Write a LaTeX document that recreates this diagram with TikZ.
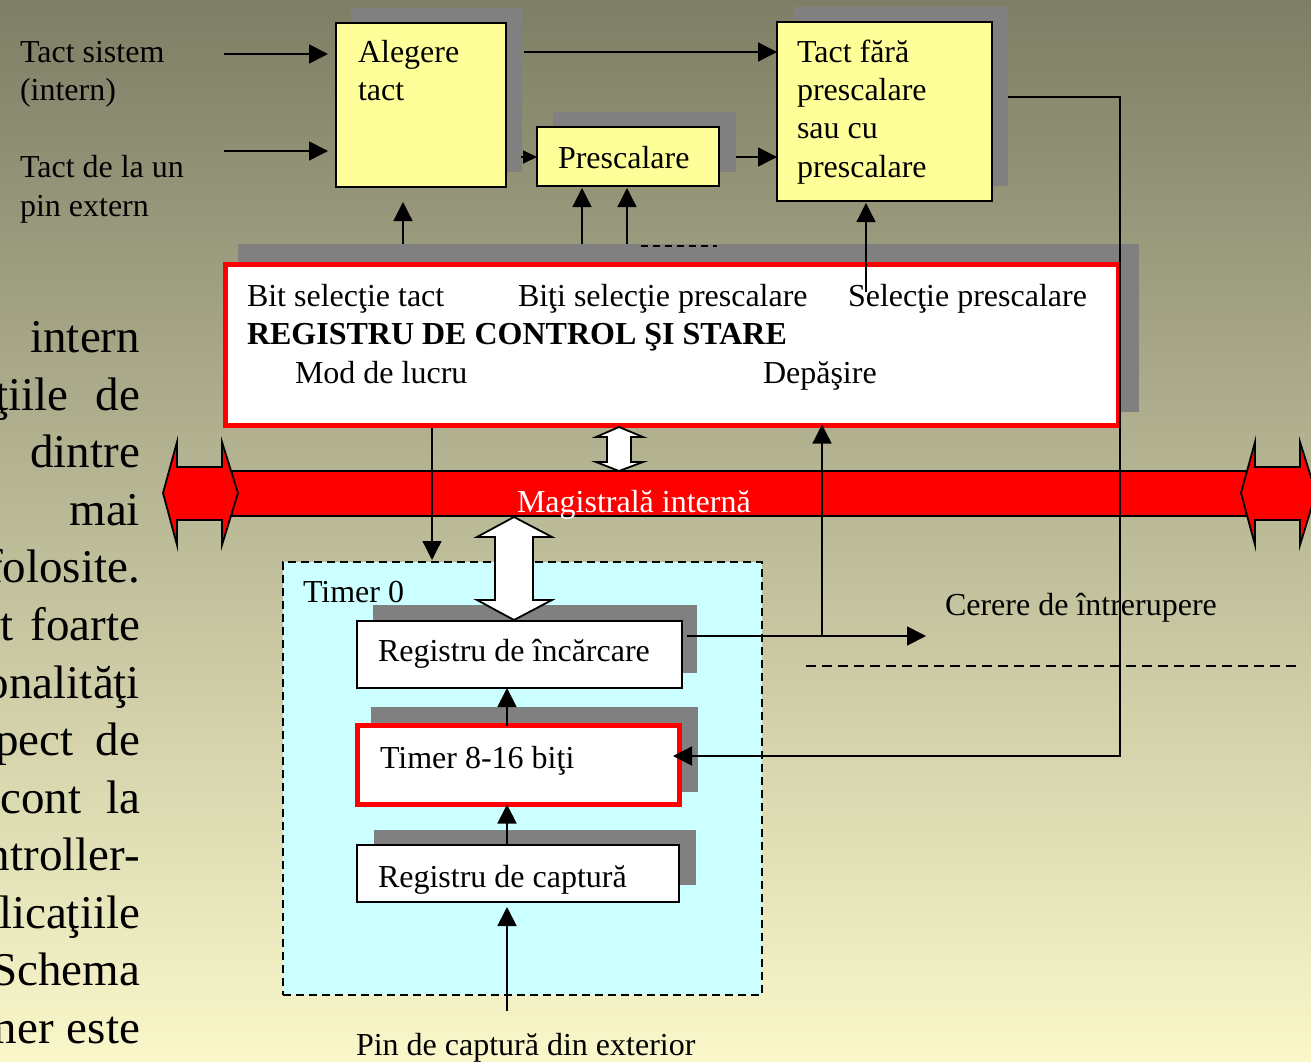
\documentclass[tikz,border=0pt]{standalone}
\usepackage{fontspec}
\setmainfont{Liberation Serif}
\usetikzlibrary{arrows.meta}

\definecolor{bgtop}{RGB}{126,126,102}
\definecolor{bgbot}{RGB}{250,248,202}
\definecolor{shadowgray}{RGB}{128,128,128}
\definecolor{boxyellow}{RGB}{255,255,153}
\definecolor{timercyan}{RGB}{204,255,255}
\definecolor{busred}{RGB}{255,0,0}

\begin{document}
\begin{tikzpicture}[x=1pt,y=-1pt,
  every node/.style={inner sep=0pt, outer sep=0pt},
  lbl/.style={anchor=base west, font=\fontsize{32}{38}\selectfont},
  para/.style={anchor=base east, font=\fontsize{47}{57}\selectfont},
  yelbox/.style={draw=black, line width=1.8pt, fill=boxyellow},
  whitebox/.style={draw=black, line width=1.8pt, fill=white},
  redbox/.style={draw=busred, line width=5pt, fill=white},
  shadowfill/.style={fill=shadowgray},
  thickarr/.style={line width=1.8pt, -{Triangle[length=19pt,width=19pt]}},
  thinarr/.style={line width=1.3pt, -{Triangle[length=19pt,width=19pt]}},
  dblarrow/.style={draw=black, line width=1.8pt, fill=white, line join=miter},
  busshape/.style={draw=black, line width=1.8pt, fill=busred, line join=miter}
]
\useasboundingbox (0,0) rectangle (1311,1062);
\clip (0,0) rectangle (1311,1062);

% background
\shade[top color=bgtop, bottom color=bgbot] (0,0) rectangle (1311,1062);

% paragraph of the slide running off the left edge
\node[para] (p1)  at (140,352)  {intern};
\node[para] (p2)  at (140,410)  {ţiile\hspace{27pt}de};
\node[para] (p3)  at (140,467)  {dintre};
\node[para] (p4)  at (140,525)  {mai};
\node[para] (p5)  at (140,582)  {folosite.};
\node[para] (p6)  at (140,640)  {t\hspace{17pt}foarte};
\node[para] (p7)  at (140,698)  {onalităţi};
\node[para] (p8)  at (140,755)  {pect\hspace{22pt}de};
\node[para] (p9)  at (140,813)  {cont\hspace{25pt}la};
\node[para] (p10) at (140,870)  {ntroller-};
\node[para] (p11) at (140,928)  {licaţiile};
\node[para] (p12) at (140,985)  {Schema};
\node[para] (p13) at (140,1043) {mer\hspace{13pt}este};

% shadows of the clock blocks
\fill[shadowfill] (351,8) rectangle (522,172);
\fill[shadowfill] (553,112) rectangle (736,172);
\fill[shadowfill] (793,7) rectangle (1008,186);
\fill[shadowfill] (238,244) rectangle (1139,412);

% clock blocks
\node[yelbox, minimum width=170pt, minimum height=164pt] (alegere) at (421,105) {};
\node[yelbox, minimum width=182pt, minimum height=59pt] (presc) at (628,156.5) {};
\node[yelbox, minimum width=215pt, minimum height=179pt] (tfara) at (884.5,111.5) {};

% control and status register
\node[redbox, minimum width=893pt, minimum height=161pt] (reg) at (672,345) {};

% timer block
\node[draw=black, line width=1.6pt, dash pattern=on 8pt off 5pt, fill=timercyan,
      minimum width=479pt, minimum height=433pt] (timer0) at (522.5,778.5) {};
\fill[shadowfill] (373,605) rectangle (697,673);
\fill[shadowfill] (371,707) rectangle (698,792);
\fill[shadowfill] (374,830) rectangle (696,885);
\node[whitebox, minimum width=325pt, minimum height=67pt] (rinc) at (519.5,654.5) {};
\node[redbox, minimum width=322pt, minimum height=79pt] (tmr) at (518.5,765) {};
\node[whitebox, minimum width=322pt, minimum height=57pt] (rcap) at (518,873.5) {};

% internal bus
\draw[busshape] (232,471) rectangle (1246,516);
\draw[busshape] (163,493) -- (177,442) -- (177,467) -- (222,467) -- (222,442) -- (238,493)
  -- (222,545) -- (222,520) -- (177,520) -- (177,545) -- cycle;
\draw[busshape] (1241,493) -- (1255,442) -- (1255,467) -- (1300,467) -- (1300,442) -- (1316,493)
  -- (1300,545) -- (1300,520) -- (1255,520) -- (1255,545) -- cycle;

% bus transfer arrows
\draw[dblarrow] (619,427) -- (643,437) -- (631,437) -- (631,462) -- (643,462) -- (619,471)
  -- (596,462) -- (607,462) -- (607,437) -- (596,437) -- cycle;
\draw[dblarrow] (514,517) -- (552,537) -- (533,537) -- (533,600) -- (552,600) -- (514,620)
  -- (477,600) -- (495,600) -- (495,537) -- (477,537) -- cycle;

% dashed marks
\draw[line width=1.8pt, dash pattern=on 7pt off 5pt] (641,246) -- (717,246);
\draw[line width=1.8pt, dash pattern=on 10pt off 6pt] (806,666) -- (1300,666);

% clock inputs
\coordinate (insys) at (224,54);
\coordinate (inext) at (224,151);
\draw[thickarr, shorten >=8pt] (insys) -- (insys -| alegere.west);
\draw[thickarr, shorten >=8pt] (inext) -- (inext -| alegere.west);

% clock path
\coordinate (alegout) at (524,52);
\draw[thickarr] (alegout) -- (alegout -| tfara.west);
\coordinate (alegsmall) at (521,157);
\draw[line width=1.8pt, -{Triangle[length=14pt,width=13pt]}] (alegsmall) -- (alegsmall -| presc.west);
\coordinate (prescout) at (736,157);
\draw[thickarr] (prescout) -- (prescout -| tfara.west);

% control bits to the clock blocks
\coordinate (bsel) at (403,244);
\draw[thinarr, shorten >=15pt] (bsel) -- (bsel |- alegere.south);
\coordinate (psel1) at (582,244);
\coordinate (psel2) at (627,244);
\draw[thinarr, shorten >=2pt] (psel1) -- (psel1 |- presc.south);
\draw[thinarr, shorten >=2pt] (psel2) -- (psel2 |- presc.south);
\coordinate (fsel) at (866,292);
\draw[thinarr, shorten >=2pt] (fsel) -- (fsel |- tfara.south);

% clock to the timer
\coordinate (tfout) at (1008,97);
\coordinate (rbend1) at (1120,97);
\coordinate (rbend2) at (1120,756);
\draw[thinarr, shorten >=-6.5pt] (tfout) -- (rbend1) -- (rbend2) -- (rbend2 -| tmr.east);

% mode of operation
\coordinate (modout) at (432,428);
\draw[thinarr, shorten >=2pt] (modout) -- (modout |- timer0.north);

% overflow and interrupt request
\coordinate (rincout) at (687,636);
\coordinate (cerere) at (926,636);
\draw[thickarr] (rincout) -- (cerere);
\coordinate (irqtap) at (822,636);
\draw[thinarr, shorten >=-1pt] (irqtap) -- (irqtap |- reg.south);

% timer internal path
\coordinate (capin) at (507,1011);
\draw[thickarr, shorten >=5pt] (capin) -- (capin |- rcap.south);
\draw[thickarr] (capin |- rcap.north) -- (capin |- tmr.south);
\draw[thickarr] (capin |- tmr.north) -- (capin |- rinc.south);

% labels
\node[lbl] (tsys1) at (20,63)  {Tact sistem};
\node[lbl] (tsys2) at (20,101) {(intern)};
\node[lbl] (text1) at (20,177) {Tact de la un};
\node[lbl] (text2) at (20,216) {pin extern};

\node[lbl] (alegt1) at (358,63)  {Alegere};
\node[lbl] (alegt2) at (358,101) {tact};
\node[lbl] (presct) at (558,168) {Prescalare};
\node[lbl] (tfart1) at (797,63)  {Tact fără};
\node[lbl] (tfart2) at (797,101) {prescalare};
\node[lbl] (tfart3) at (797,139) {sau cu};
\node[lbl] (tfart4) at (797,177) {prescalare};

\node[lbl] (regb1) at (247,306) {Bit selecţie tact};
\node[lbl] (regb2) at (518,306) {Biţi selecţie prescalare};
\node[lbl] (regb3) at (848,306) {Selecţie prescalare};
\node[lbl, font=\fontsize{32}{38}\selectfont\bfseries] (regname) at (247,344) {REGISTRU DE CONTROL ŞI STARE};
\node[lbl] (regb4) at (295,383) {Mod de lucru};
\node[lbl] (regb5) at (763,383) {Depăşire};

\node[lbl, text=white] (bustxt) at (517,512) {Magistrală internă};

\node[lbl] (t0txt)   at (303,602)  {Timer 0};
\node[lbl] (rinctxt) at (378,661)  {Registru de încărcare};
\node[lbl] (tmrtxt)  at (380,768)  {Timer 8-16 biţi};
\node[lbl] (rcaptxt) at (378,887)  {Registru de captură};
\node[lbl] (pintxt)  at (356,1055) {Pin de captură din exterior};
\node[lbl] (irqtxt)  at (945,615)  {Cerere de întrerupere};
\end{tikzpicture}
\end{document}
